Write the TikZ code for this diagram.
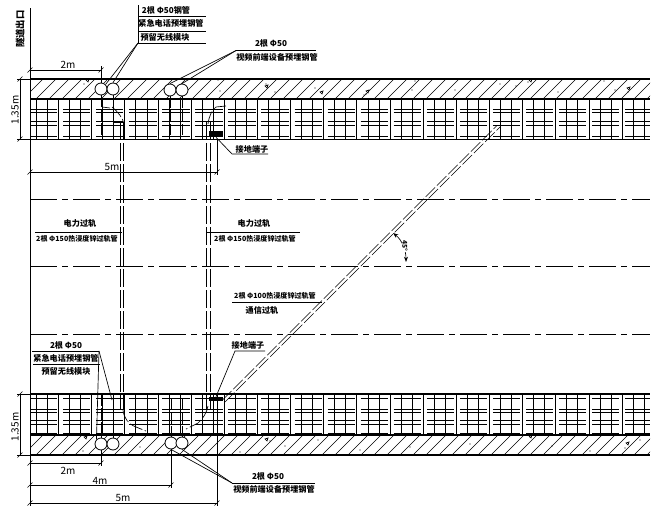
\documentclass[tikz,border=0pt]{standalone}
\usepackage{fontspec}
\usepackage{tikz}
\usetikzlibrary{arrows.meta, calc}
\newfontfamily\cjk{Noto Sans CJK SC}
\newcommand{\dimtick}[1]{\draw[thin] ($(#1)+(-2.5,2.5)$) -- ($(#1)+(2.5,-2.5)$);}

\begin{document}
\begin{tikzpicture}[
    x=0.75pt, y=-0.75pt,
    lab/.style={inner sep=0pt, font=\cjk\bfseries\fontsize{6.1}{6}\selectfont},
    longlab/.style={inner sep=0pt, font=\cjk\bfseries\fontsize{5.3}{6}\selectfont},
    dimlab/.style={inner sep=0pt, font=\cjk\fontsize{7.5}{7}\selectfont},
    tube/.style={circle, draw, fill=white, inner sep=0pt, minimum size=9pt, line width=0.6pt},
    slab/.style={line width=0.8pt},
    hatchline/.style={line width=0.45pt},
    bar/.style={line width=0.75pt},
    mesh/.style={line width=0.6pt, dash pattern=on 20.5pt off 4.3pt},
    meshthick/.style={line width=1.2pt, dash pattern=on 20.5pt off 4.3pt},
    centre/.style={line width=0.7pt, dash pattern=on 20.25pt off 3.75pt on 4.5pt off 3.75pt},
    duct/.style={line width=0.7pt, dash pattern=on 13.5pt off 2.25pt},
    conduit/.style={line width=0.55pt, dash pattern=on 9pt off 1.5pt},
    diag/.style={line width=0.5pt, dash pattern=on 10pt off 2pt},
    thin line/.style={line width=0.5pt},
]
\useasboundingbox (0,0) rectangle (656,514);

% concrete bands
\begin{scope}
\clip (30,79) rectangle (650,99) (30,435) rectangle (650,455);
\foreach \hx in {10,23,...,660} {
    \draw[hatchline] (\hx,99) -- +(20,-20);
    \draw[hatchline] (\hx,455) -- +(20,-20);
}
\end{scope}
\foreach \sx/\sy in {84/84, 218/80, 266/84, 275/92, 315/88, 220/91, 364/95, 412/90, 366/94, 415/81, 455/90, 500/84, 516/86, 528/82, 558/92, 604/81, 615/90, 628/92, 83/451, 140/447, 240/452, 270/441, 285/446, 318/440, 360/450, 410/447, 470/444, 530/437, 552/446, 590/451, 625/448, 640/440}
    \fill (\sx,\sy) circle (0.7);
\foreach \tx/\ty in {86/80, 265/86, 320/92, 366/91, 529/80, 627/88, 84/437, 265/439, 529/436, 626/443}
    \draw[thin line] (\tx,\ty) -- ++(3,-1) -- ++(-1,3) -- cycle;
\draw[slab] (30,79) -- (650,79) (30,99) -- (650,99) (30,435) -- (650,435) (30,455) -- (650,455);

% rebar
\foreach \bx in {0,...,55} {
    \draw[bar] ({36.5+11.05*\bx},99) -- ({36.5+11.05*\bx},139);
    \draw[bar] ({36.5+11.05*\bx},394) -- ({36.5+11.05*\bx},435);
}
\foreach \my in {109.3,112.5,121.7,125} {
    \draw[mesh] (30,\my) -- (650,\my);
}
\draw[meshthick] (30,136.5) -- (650,136.5);
\draw[slab] (30,139.5) -- (650,139.5);
\draw[slab] (30,394) -- (650,394);
\draw[meshthick] (30,398.5) -- (650,398.5);
\foreach \my in {409.3,412.7,420.7,424,433} {
    \draw[mesh] (30,\my) -- (650,\my);
}

% centre lines
\foreach \cy in {199,266.5,334} {
    \draw[centre] (30,\cy) -- (650,\cy);
}

% ducts
\foreach \dx in {120.7,123.3,206.7,210.7} {
    \draw[duct] (\dx,122) -- (\dx,410);
}
\draw[diag] (222,400.5) -- (497,125.5);
\draw[diag] (225,402) -- (500,127);

% tubes
\node[tube] (tubeA) at (101,89) {};
\node[tube] (tubeB) at (113,89) {};
\node[tube] (tubeC) at (170,90) {};
\node[tube] (tubeD) at (182,90) {};
\node[tube] (tubeE) at (101,444) {};
\node[tube] (tubeF) at (113,444) {};
\node[tube] (tubeG) at (171,443) {};
\node[tube] (tubeH) at (182,443) {};

\foreach \vx/\vy/\vz in {101/95/135, 113/95/135, 170/96/135, 182/96/135, 101/394/438, 113/400/438, 171/398/437, 182/398/437}
    \draw[conduit] (\vx,\vy) -- (\vx,\vz);
\draw[diag] (102,107) -- (110,108) (112,107) .. controls (118,112) and (123,118) .. (124,124);
\draw[diag] (226,106) -- (216,107) .. controls (212,110) and (209,116) .. (208,124);
\draw[diag] (123,410) .. controls (124,418) and (128,424) .. (136,427) -- (146,431);
\draw[diag] (208,406) .. controls (207,412) and (203,419) .. (198,423) -- (186,429);
\draw[thin line] (113,122) rectangle (124,136);
\draw[thin line] (113,398) -- (124,398);

% earth terminals
\node[fill=black, inner sep=0pt, minimum width=10pt, minimum height=4.5pt] (earthA) at (216,134) {};
\node[fill=black, inner sep=0pt, minimum width=10pt, minimum height=3pt] (earthB) at (216,399) {};
\node[lab] (earthlabA) at (252,149) {接地端子};
\node[lab] (earthlabB) at (248,345) {接地端子};
\coordinate (earthkneeA) at (232,154);
\coordinate (earthendA) at (268,154);
\coordinate (earthkneeB) at (235,351);
\coordinate (earthendB) at (265,351);
\draw[thin line] (earthA.south) -- (earthkneeA) -- (earthendA);
\draw[thin line] (earthB.north) -- (earthkneeB) -- (earthendB);

% tunnel exit line
\coordinate (edgetop) at (30,8);
\coordinate (edgebot) at (30,506);
\draw[line width=0.7pt] (edgetop) -- (edgebot);
\node[lab, rotate=90, font=\cjk\bfseries\fontsize{7}{7}\selectfont] (exitlab) at (20,29) {隧道出口};

% top left note
\node[lab] (noteA) at (166,10) {2根 Φ50钢管};
\node[lab] (noteB) at (171,23) {紧急电话预埋钢管};
\node[lab] (noteC) at (165,37) {预留无线模块};
\coordinate (notecorner) at (138,43);
\draw[thin line] (138,5) -- (notecorner) -- (206,43);
\draw[thin line] (138,16) -- (206,16) (138,31) -- (206,31);
\draw[thin line] (notecorner) -- (tubeA.north east);
\draw[thin line] (notecorner) -- (tubeB.north);

% top right note
\node[lab] (noteD) at (271,43) {2根 Φ50};
\node[lab] (noteE) at (277,57) {视频前端设备预埋钢管};
\coordinate (noteDleft) at (236,50.5);
\draw[thin line] (noteDleft) -- (316,50.5);
\draw[thin line] (noteDleft) -- (tubeC.north);
\draw[thin line] (noteDleft) -- (tubeD.north);

% bottom left note
\node[lab] (noteF) at (66,345) {2根 Φ50};
\node[lab] (noteG) at (66,358) {紧急电话预埋钢管};
\node[lab] (noteH) at (66,371) {预留无线模块};
\coordinate (noteFright) at (99,351);
\draw[thin line] (32,351) -- (noteFright);
\draw[thin line] (33,364) -- (100,364);
\draw[thin line] (noteFright) -- (tubeE.north west);
\draw[thin line] (noteFright) -- (112,400);

% bottom right note
\node[lab] (noteI) at (268,476) {2根 Φ50};
\node[lab] (noteJ) at (274,489) {视频前端设备预埋钢管};
\coordinate (noteIleft) at (232,483);
\draw[thin line] (noteIleft) -- (315,483);
\draw[thin line] (noteIleft) -- (tubeG.south);
\draw[thin line] (noteIleft) -- (tubeH.south);

% duct notes
\node[lab] (powerA) at (80,223) {电力过轨};
\node[longlab] (powerB) at (77,238.5) {2根 Φ150热浸度锌过轨管};
\node[lab] (powerC) at (254,223) {电力过轨};
\node[longlab] (powerD) at (255,238.5) {2根 Φ150热浸度锌过轨管};
\draw[thin line] (35,232) -- (122,232) (207,232) -- (300,232);
\node[longlab] (signalA) at (275,296) {2根 Φ100热浸度锌过轨管};
\node[lab] (signalB) at (262,310) {通信过轨};
\draw[thin line] (232,302) -- (322,302);

% angle
\coordinate (anglea) at (393,233);
\coordinate (angleb) at (406,262);
\draw[thin line, {Stealth[length=4pt]}-{Stealth[length=4pt]}] (anglea) .. controls (402,240) and (406,250) .. (angleb);
\node[lab, rotate=-90, font=\cjk\bfseries\fontsize{5}{5}\selectfont, fill=white, inner sep=0.3pt] (anglelab) at (405,246) {45°};

% dimensions top
\coordinate (dimAa) at (30,70);
\coordinate (dimAb) at (101,70);
\draw[thin line] (dimAa) -- (dimAb);
\draw[thin line] (101,66) -- (tubeA.north);
\dimtick{dimAa} \dimtick{dimAb}
\node[dimlab] (dimlabA) at (68,65) {2m};
\coordinate (dimBa) at (30,172);
\coordinate (dimBb) at (217,172);
\draw[thin line] (dimBa) -- (dimBb);
\draw[thin line] (217,139) -- (217,175);
\dimtick{dimBa} \dimtick{dimBb}
\node[dimlab] (dimlabB) at (112,167) {5m};
\coordinate (dimCa) at (20,79);
\coordinate (dimCb) at (20,139);
\draw[thin line] (dimCa) -- (dimCb);
\draw[thin line] (17,79) -- (30,79) (17,139) -- (30,139);
\dimtick{dimCa} \dimtick{dimCb}
\node[dimlab, rotate=90] (dimlabC) at (15,110) {1.35m};

% dimensions bottom
\coordinate (dimDa) at (20,394);
\coordinate (dimDb) at (20,455);
\draw[thin line] (dimDa) -- (dimDb);
\draw[thin line] (17,394) -- (30,394) (17,455) -- (30,455);
\dimtick{dimDa} \dimtick{dimDb}
\node[dimlab, rotate=90] (dimlabD) at (15,427) {1.35m};
\coordinate (dimEa) at (30,463);
\coordinate (dimEb) at (101,463);
\draw[thin line] (dimEa) -- (dimEb);
\draw[thin line] (tubeE.south) -- (101,466);
\dimtick{dimEa} \dimtick{dimEb}
\node[dimlab] (dimlabE) at (68,471) {2m};
\coordinate (dimFa) at (30,485);
\coordinate (dimFb) at (171,485);
\draw[thin line] (dimFa) -- (dimFb);
\draw[thin line] (tubeG.south) -- (171,488);
\dimtick{dimFa} \dimtick{dimFb}
\node[dimlab] (dimlabF) at (100,481) {4m};
\coordinate (dimGa) at (30,503);
\coordinate (dimGb) at (217,503);
\draw[thin line] (dimGa) -- (dimGb);
\draw[thin line] (217,394) -- (217,506);
\dimtick{dimGa} \dimtick{dimGb}
\node[dimlab] (dimlabG) at (123,498) {5m};
\end{tikzpicture}
\end{document}
